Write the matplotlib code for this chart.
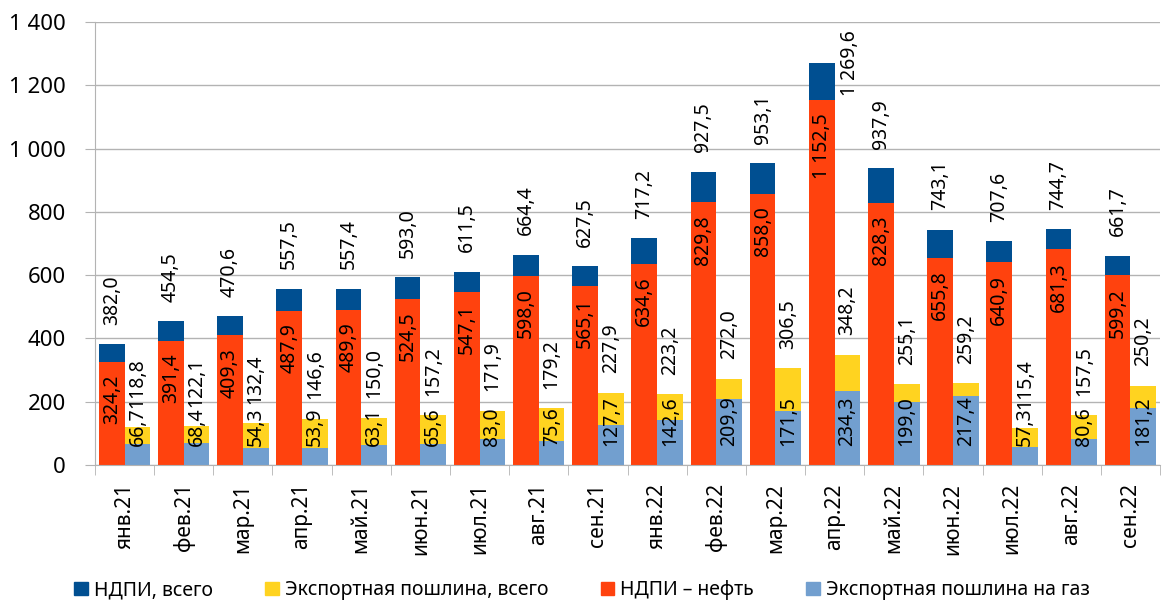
import numpy as np
from matplotlib import pyplot as plt
from matplotlib.patches import Patch

months = ["янв.21", "фев.21", "мар.21", "апр.21", "май.21", "июн.21", "июл.21", "авг.21", "сен.21",
          "янв.22", "фев.22", "мар.22", "апр.22", "май.22", "июн.22", "июл.22", "авг.22", "сен.22"]
ndpi_total = [382.0, 454.5, 470.6, 557.5, 557.4, 593.0, 611.5, 664.4, 627.5,
              717.2, 927.5, 953.1, 1269.6, 937.9, 743.1, 707.6, 744.7, 661.7]
ndpi_oil = [324.2, 391.4, 409.3, 487.9, 489.9, 524.5, 547.1, 598.0, 565.1,
            634.6, 829.8, 858.0, 1152.5, 828.3, 655.8, 640.9, 681.3, 599.2]
export_total = [118.8, 122.1, 132.4, 146.6, 150.0, 157.2, 171.9, 179.2, 227.9,
                223.2, 272.0, 306.5, 348.2, 255.1, 259.2, 115.4, 157.5, 250.2]
export_gas = [66.7, 68.4, 54.3, 53.9, 63.1, 65.6, 83.0, 75.6, 127.7,
              142.6, 209.9, 171.5, 234.3, 199.0, 217.4, 57.3, 80.6, 181.2]

plt.rcParams['font.family'] = ['Noto Sans', 'DejaVu Sans']

c_dark = "#004f91"
c_yellow = "#ffd320"
c_red = "#ff420e"
c_light = "#729fcf"


def fmt(v):
    s = f"{v:,.1f}".replace(",", " ").replace(".", ",")
    return s


def main():
    x = np.arange(len(months))
    w = 0.435
    xl = x - w / 2
    xr = x + w / 2
    rest = np.array(ndpi_total) - np.array(ndpi_oil)
    exp_rest = np.array(export_total) - np.array(export_gas)

    fig = plt.figure(figsize=(11.64, 6.01), dpi=100)
    ax = fig.add_axes([0.0816, 0.2263, 0.915, 0.737])

    ax.bar(xl, ndpi_oil, w, color=c_red, zorder=2)
    ax.bar(xl, rest, w, bottom=ndpi_oil, color=c_dark, zorder=2)
    ax.bar(xr, export_gas, w, color=c_light, zorder=2)
    ax.bar(xr, exp_rest, w, bottom=export_gas, color=c_yellow, zorder=2)

    ymax = 1400
    ax.set_ylim(0, ymax)
    ax.set_xlim(-0.5, len(months) - 0.5)

    lab = dict(rotation=90, ha="center", fontsize=14, textcoords="offset points", zorder=3)
    for i in range(len(months)):
        # totals above bars
        if ndpi_total[i] + 260 > ymax:
            ax.annotate(fmt(ndpi_total[i]), (xr[i] + 0.05, ymax), xytext=(0, -6), va="top", **lab)
        else:
            ax.annotate(fmt(ndpi_total[i]), (xl[i], ndpi_total[i]), xytext=(0, 14), va="bottom", **lab)
        ax.annotate(fmt(export_total[i]), (xr[i], export_total[i]), xytext=(0, 14), va="bottom", **lab)
        # inner labels
        ax.annotate(fmt(ndpi_oil[i]), (xl[i], ndpi_oil[i]), xytext=(0, -9), va="top", **lab)
        ax.annotate(fmt(export_gas[i]), (xr[i], 0), xytext=(0, 14), va="bottom", **lab)

    ax.set_yticks(range(0, 1401, 200))
    ax.set_yticklabels([fmt(v)[:-2] for v in range(0, 1401, 200)], fontsize=16)
    ax.yaxis.grid(True, color="#b3b3b3", linewidth=1, zorder=0)
    ax.tick_params(axis="y", length=7, color="#b3b3b3", pad=14)

    ax.set_xticks(x)
    ax.set_xticklabels(months, rotation=90, fontsize=15, va="top")
    ax.set_xticks(np.arange(len(months) + 1) - 0.5, minor=True)
    ax.tick_params(axis="x", which="major", length=0, pad=13)
    ax.tick_params(axis="x", which="minor", length=7, color="#b3b3b3")

    for s in ["top", "right"]:
        ax.spines[s].set_visible(False)
    ax.spines["left"].set_color("#b3b3b3")
    ax.spines["bottom"].set_color("#b3b3b3")

    handles = [Patch(color=c_dark), Patch(color=c_yellow), Patch(color=c_red), Patch(color=c_light)]
    names = ["НДПИ, всего", "Экспортная пошлина, всего", "НДПИ – нефть", "Экспортная пошлина на газ"]
    fig.legend(handles, names, loc="center", bbox_to_anchor=(0.5, 0.018), ncol=4, frameon=False,
               fontsize=14, handlelength=0.7, handleheight=0.7, handletextpad=0.3, columnspacing=2.7)

    plt.savefig("out.png", dpi=100)


main()
